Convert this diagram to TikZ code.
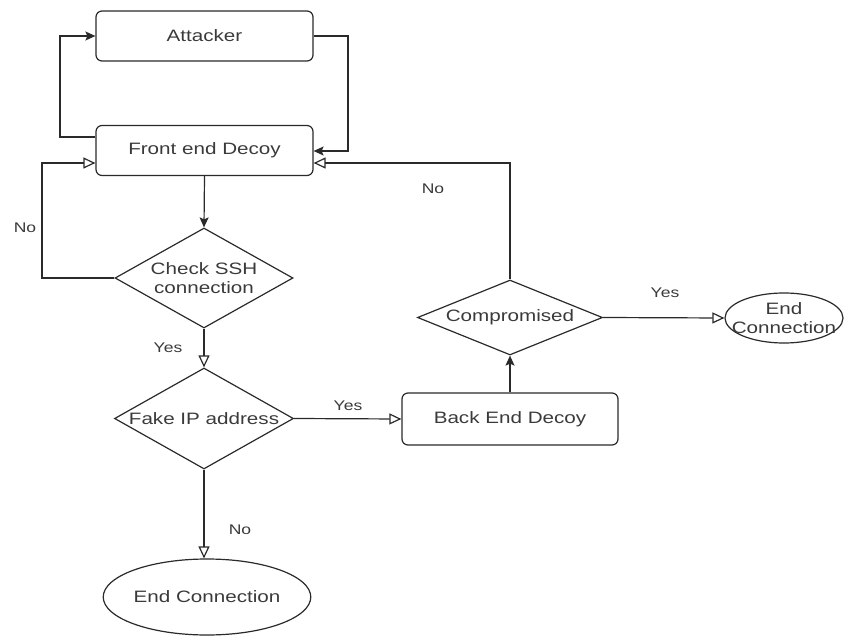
\documentclass[tikz,border=0pt]{standalone}
\usepackage{fontspec}
\setmainfont{Liberation Sans}[FakeStretch=1.25]
\usetikzlibrary{arrows.meta,shapes.geometric}
\definecolor{ln}{HTML}{2A2A2A}
\definecolor{tx}{HTML}{3A3A3A}
\tikzset{
  base/.style={draw=ln, line width=1.2pt, text=tx, font=\fontsize{16.5}{19}\selectfont},
  boxnode/.style={base, rectangle, rounded corners=6pt, minimum width=217pt, minimum height=50pt, inner sep=0pt},
  dia/.style={base, diamond, inner sep=0pt},
  ell/.style={base, ellipse, inner sep=0pt},
  txt/.style={text=tx, font=\fontsize{16.5}{19}\selectfont, align=center, inner sep=0pt},
  lbl/.style={text=tx, font=\fontsize{14}{16}\selectfont, inner sep=0pt},
  conn/.style={draw=ln, line width=1.2pt},
  farrow/.style={conn, -{Stealth[length=10pt,width=9pt,inset=2pt]}},
  oarrow/.style={conn, -{Triangle[open,length=12pt,width=11pt]}},
}
\begin{document}
\begin{tikzpicture}[x=1pt,y=-1pt]
\useasboundingbox (0,0) rectangle (844,637);
% nodes
\node[boxnode] (att) at (204.5,36) {Attacker};
\node[boxnode] (fed) at (204.5,150.5) {Front end Decoy};
\node[dia, minimum width=178pt, minimum height=100pt] (ssh) at (204,278) {};
\node[txt] (sshT) at (ssh) {Check SSH\\connection};
\node[dia, minimum width=179pt, minimum height=101pt] (fip) at (204,418.5) {};
\node[txt] (fipT) at (fip) {Fake IP address};
\node[boxnode, minimum width=216pt, minimum height=52pt] (bed) at (510,419) {Back End Decoy};
\node[dia, minimum width=185pt, minimum height=75pt] (comp) at (510,317.5) {};
\node[txt] (compT) at (comp) {Compromised};
\node[ell, minimum width=171pt, minimum height=76pt] (end1) at (207,597) {End Connection};
\node[ell, minimum width=118pt, minimum height=50pt] (end2) at (784,318) {};
\node[txt] (end2T) at (end2) {End\\Connection};
% helper coordinates
\coordinate (c1) at (60,137);
\coordinate (c2) at (348,151);
\coordinate (c3) at (42,163);
\coordinate (c4) at (510,163);
% connectors
\draw[farrow] (fed.west |- c1) -- (c1) |- (att.west);
\draw[farrow] (att.east) -| (c2) -- (fed.east |- c2);
\draw[farrow] (fed.south) -- (ssh.north);
\draw[oarrow] (ssh.west) -| (c3) -- (fed.west |- c3);
\draw[oarrow] (ssh.south) -- (fip.north);
\draw[oarrow] (fip.east) -- (bed.west);
\draw[oarrow] (fip.south) -- (fip.south |- end1.north);
\draw[farrow] (bed.north) -- (comp.south);
\draw[oarrow] (comp.north) -- (c4) -- (fed.east |- c4);
\draw[oarrow] (comp.east) -- (end2.west);
% labels
\node[lbl] (l1) at (25,228) {No};
\node[lbl] (l2) at (168,348) {Yes};
\node[lbl] (l3) at (348,406) {Yes};
\node[lbl] (l4) at (240,530) {No};
\node[lbl] (l5) at (433,189) {No};
\node[lbl] (l6) at (665,293) {Yes};
\end{tikzpicture}
\end{document}
